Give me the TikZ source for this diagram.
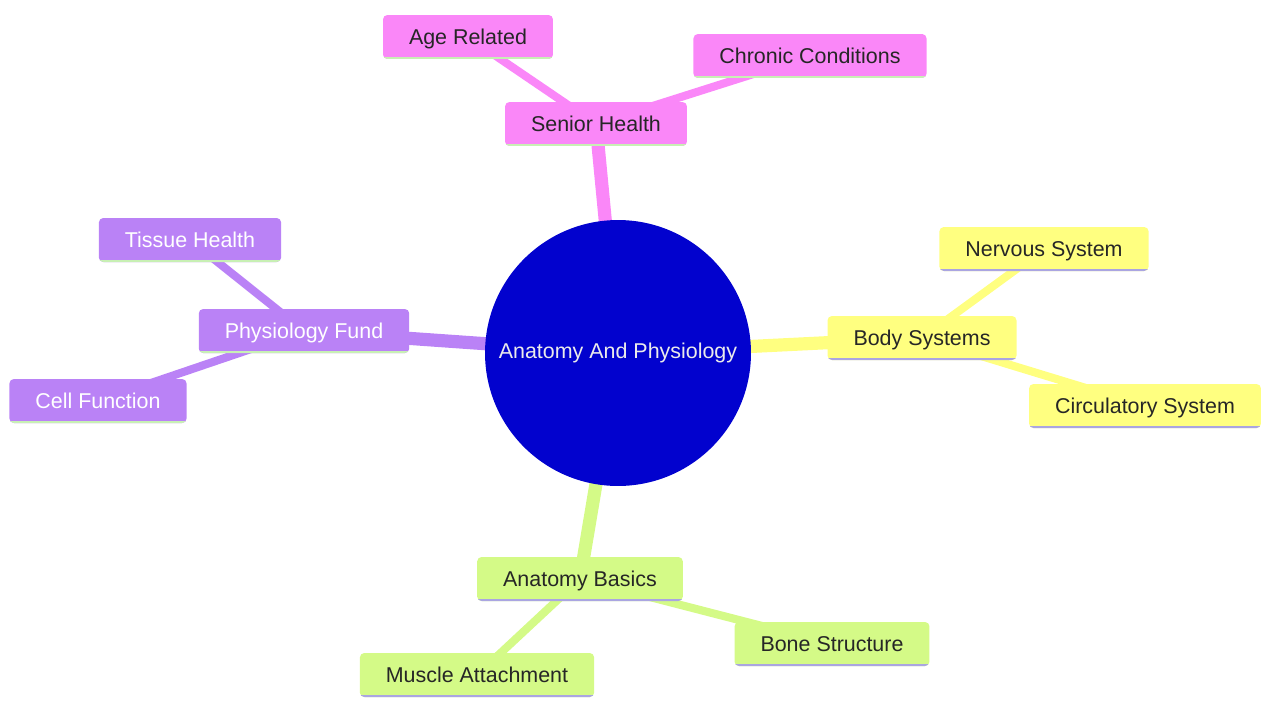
\documentclass[tikz,border=0pt]{standalone}
\usepackage{fontspec}
\setmainfont{Liberation Sans}
\usetikzlibrary{backgrounds}

\definecolor{rootblue}{RGB}{2,2,206}
\definecolor{pinkfill}{RGB}{250,135,248}
\definecolor{purplefill}{RGB}{186,130,246}
\definecolor{yellowfill}{RGB}{255,255,128}
\definecolor{greenfill}{RGB}{212,250,135}
\definecolor{greenline}{RGB}{200,240,180}
\definecolor{lavline}{RGB}{170,165,225}

\tikzset{
  mind/.style={rounded corners=2.5pt, minimum height=0.88cm, inner xsep=0.52cm,
    font=\fontsize{12.2}{14}\selectfont, text height=2.0ex, text depth=0.35ex,
    path picture={\draw[line width=2.6pt,#1]
      (path picture bounding box.south west) -- (path picture bounding box.south east);}},
  pinkbox/.style={mind=greenline, fill=pinkfill, text=black!85},
  purplebox/.style={mind=greenline, fill=purplefill, text=white},
  yellowbox/.style={mind=lavline, fill=yellowfill, text=black!85},
  greenbox/.style={mind=lavline, fill=greenfill, text=black!85},
  trunk/.style={line width=7.5pt},
  twig/.style={line width=4.6pt}
}

\begin{document}
\begin{tikzpicture}[x=0.02cm,y=-0.02cm]
\useasboundingbox (0,0) rectangle (1261,700);

\node[circle, fill=rootblue, minimum size=5.32cm, inner sep=0pt, text=white!92!black,
  font=\fontsize{12.2}{14}\selectfont] (root) at (618,353) {Anatomy And Physiology};

\node[pinkbox] (senior) at (596,124) {Senior Health};
\node[pinkbox] (age) at (468,37) {Age Related};
\node[pinkbox] (chronic) at (810,56) {Chronic Conditions};

\node[purplebox] (physio) at (304,331) {Physiology Fund};
\node[purplebox] (tissue) at (190,240) {Tissue Health};
\node[purplebox] (cell) at (98,401) {Cell Function};

\node[yellowbox] (body) at (922,338) {Body Systems};
\node[yellowbox] (nervous) at (1044,249) {Nervous System};
\node[yellowbox] (circ) at (1145,406) {Circulatory System};

\node[greenbox] (basics) at (580,579) {Anatomy Basics};
\node[greenbox] (bone) at (832,644) {Bone Structure};
\node[greenbox] (muscle) at (477,675) {Muscle Attachment};

\begin{scope}[on background layer]
\draw[trunk, pinkfill] (root.center) -- (senior.center);
\draw[twig, pinkfill] (senior.center) -- (age.center);
\draw[twig, pinkfill] (senior.center) -- (chronic.center);

\draw[trunk, purplefill] (root.center) -- (physio.center);
\draw[twig, purplefill] (physio.center) -- (tissue.center);
\draw[twig, purplefill] (physio.center) -- (cell.center);

\draw[trunk, yellowfill] (root.center) -- (body.center);
\draw[twig, yellowfill] (body.center) -- (nervous.center);
\draw[twig, yellowfill] (body.center) -- (circ.center);

\draw[trunk, greenfill] (root.center) -- (basics.center);
\draw[twig, greenfill] (basics.center) -- (bone.center);
\draw[twig, greenfill] (basics.center) -- (muscle.center);
\end{scope}
\end{tikzpicture}
\end{document}
